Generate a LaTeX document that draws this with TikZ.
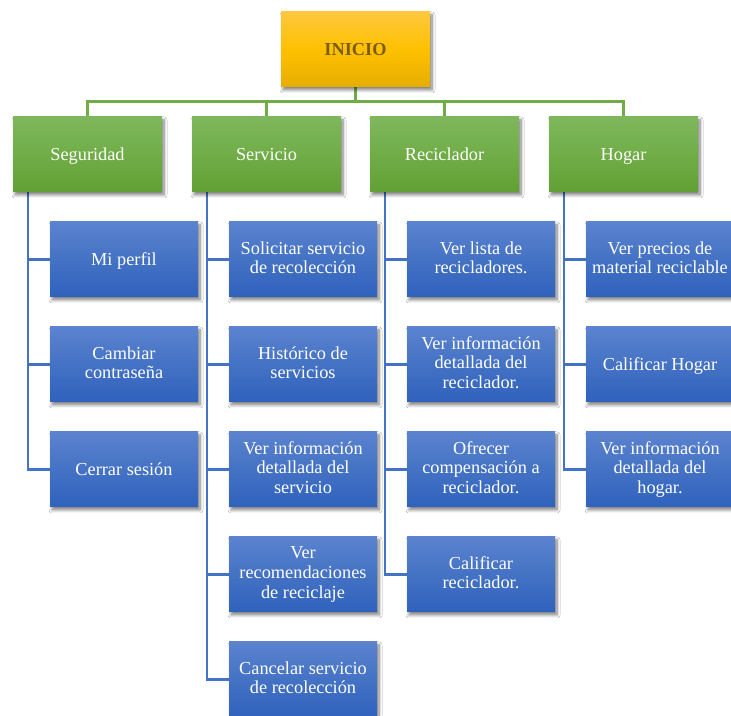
\documentclass[tikz,border=0pt]{standalone}
\usepackage{fontspec}
\setmainfont{Liberation Serif}
\usetikzlibrary{shadows.blur,backgrounds}

\definecolor{goldtop}{HTML}{FFC83E}
\definecolor{goldmid}{HTML}{FFC000}
\definecolor{goldbot}{HTML}{E6AD00}
\definecolor{goldtext}{HTML}{7A5C00}
\definecolor{greentop}{HTML}{7FB75D}
\definecolor{greenmid}{HTML}{70AD47}
\definecolor{greenbot}{HTML}{62A034}
\definecolor{bluetop}{HTML}{5B83CF}
\definecolor{bluemid}{HTML}{4472C4}
\definecolor{bluebot}{HTML}{2F62BD}

% invisible rule giving each text block the font's full ascent and descent
\newcommand\linestrut{\rule[-3.9pt]{0pt}{19.9pt}}

\tikzset{
  boxbase/.style={minimum height=75pt, inner sep=2pt, align=center,
    font=\fontsize{18.3}{19.7}\selectfont,
    execute at begin node=\linestrut, execute at end node=\linestrut,
    blur shadow={shadow xshift=2pt, shadow yshift=-3pt,
      shadow blur radius=3pt, shadow blur steps=8, shadow opacity=50}},
  rootbox/.style={boxbase, minimum width=149pt,
    top color=goldtop, bottom color=goldbot, middle color=goldmid,
    text=goldtext, font=\fontsize{18.3}{19.7}\selectfont\bfseries},
  areabox/.style={boxbase, minimum width=149pt,
    top color=greentop, bottom color=greenbot, middle color=greenmid,
    text=white},
  taskbox/.style={boxbase, minimum width=148pt,
    top color=bluetop, bottom color=bluebot, middle color=bluemid,
    text=white},
  greenwire/.style={draw=greenmid, line width=2.8pt},
  bluewire/.style={draw=bluemid, line width=2.4pt}
}

\begin{document}
\begin{tikzpicture}[x=1pt, y=1pt]
\useasboundingbox (0,0) rectangle (731,715);

% root
\node[rootbox] (inicio) at (355.5,665.5) {INICIO};

% areas
\node[areabox] (seg)  at (87.5,560.5)  {Seguridad};
\node[areabox] (serv) at (266.5,560.5) {Servicio};
\node[areabox] (rec)  at (444.5,560.5) {Reciclador};
\node[areabox] (hog)  at (623.5,560.5) {Hogar};

% Seguridad
\node[taskbox] (seg1) at (124,455.5) {Mi perfil};
\node[taskbox] (seg2) at (124,350.5) {Cambiar\\contraseña};
\node[taskbox] (seg3) at (124,245.5) {Cerrar sesión};

% Servicio
\node[taskbox] (serv1) at (303,455.5) {Solicitar servicio\\de recolección};
\node[taskbox] (serv2) at (303,350.5) {Histórico de\\servicios};
\node[taskbox] (serv3) at (303,245.5) {Ver información\\detallada del\\servicio};
\node[taskbox] (serv4) at (303,140.5) {Ver\\recomendaciones\\de reciclaje};
\node[taskbox] (serv5) at (303,35.5)  {Cancelar servicio\\de recolección};

% Reciclador
\node[taskbox] (rec1) at (481,455.5) {Ver lista de\\recicladores.};
\node[taskbox] (rec2) at (481,350.5) {Ver información\\detallada del\\reciclador.};
\node[taskbox] (rec3) at (481,245.5) {Ofrecer\\compensación a\\reciclador.};
\node[taskbox] (rec4) at (481,140.5) {Calificar\\reciclador.};

% Hogar
\node[taskbox] (hog1) at (660,455.5) {Ver precios de\\material reciclable};
\node[taskbox] (hog2) at (660,350.5) {Calificar Hogar};
\node[taskbox] (hog3) at (660,245.5) {Ver información\\detallada del\\hogar.};

\begin{scope}[on background layer]
\fill[white] (0,0) rectangle (731,715);

% connectors from the root to the four areas
\coordinate (bus) at ([yshift=-14pt]inicio.south);
\foreach \a in {seg,serv,rec,hog}
  \draw[greenwire] (inicio.south) -- (bus) -| (\a.north);

% connectors from each area to its tasks
\coordinate (segtrunk)  at ([xshift=-22pt]seg1.west  |- seg.south);
\coordinate (servtrunk) at ([xshift=-22pt]serv1.west |- serv.south);
\coordinate (rectrunk)  at ([xshift=-22pt]rec1.west  |- rec.south);
\coordinate (hogtrunk)  at ([xshift=-22pt]hog1.west  |- hog.south);

\foreach \t in {seg1,seg2,seg3}
  \draw[bluewire] (segtrunk) |- (\t.west);
\foreach \t in {serv1,serv2,serv3,serv4,serv5}
  \draw[bluewire] (servtrunk) |- (\t.west);
\foreach \t in {rec1,rec2,rec3,rec4}
  \draw[bluewire] (rectrunk) |- (\t.west);
\foreach \t in {hog1,hog2,hog3}
  \draw[bluewire] (hogtrunk) |- (\t.west);
\end{scope}
\end{tikzpicture}
\end{document}
